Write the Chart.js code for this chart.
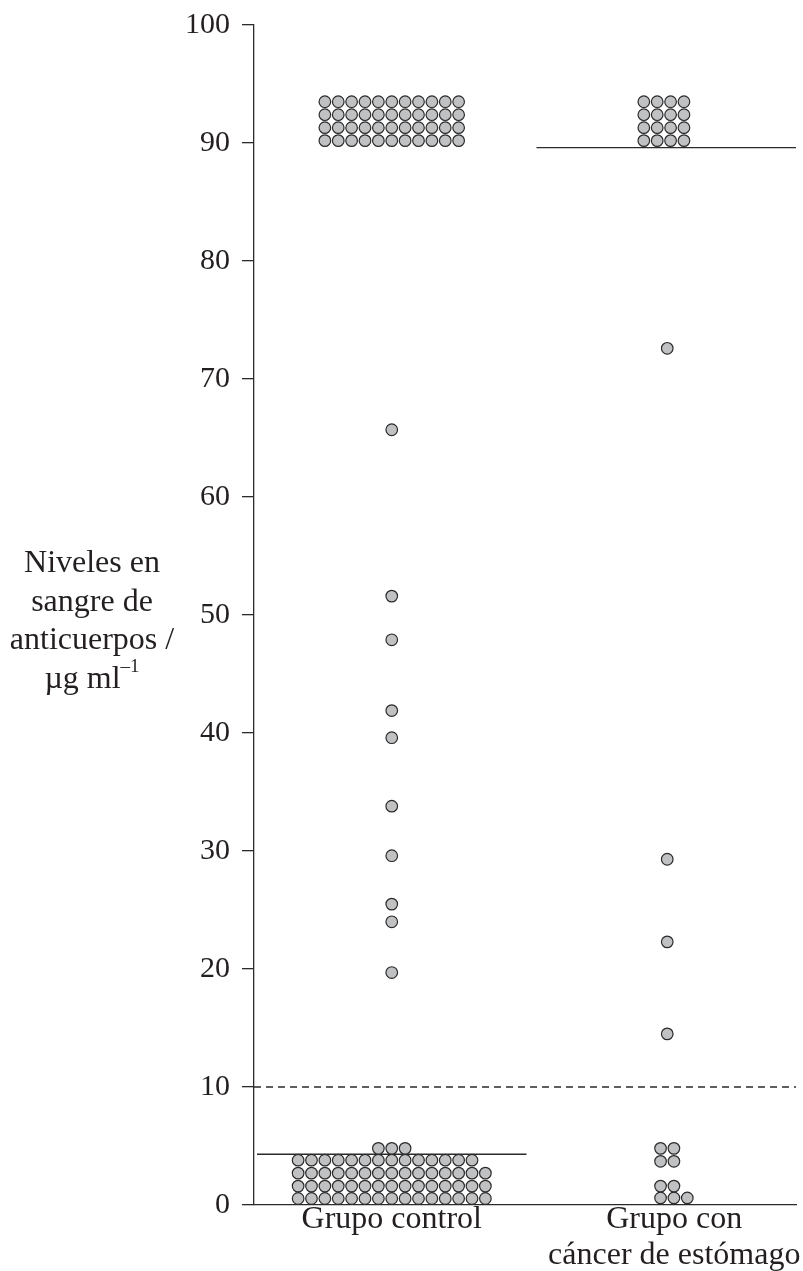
<!DOCTYPE html>
<html>
<head>
<meta charset="utf-8">
<script src="https://cdn.jsdelivr.net/npm/chart.js@4/dist/chart.umd.min.js"></script>
<style>
  body { margin: 0; background: #fff; }
  canvas { display: block; }
</style>
</head>
<body>
<canvas id="grafico" width="803" height="1271"></canvas>
<script>
// datos
const grupos = [['Grupo control'], ['Grupo con', 'cáncer de estómago']];
const tituloY = ['Niveles en', 'sangre de', 'anticuerpos /', 'µg ml'];
const ticksY = [0, 10, 20, 30, 40, 50, 60, 70, 80, 90, 100];

// niveles de cada fila de puntos y cuantos puntos tiene la fila
const controlNiveles = [0.55, 1.6, 2.7, 3.8, 4.8, 19.7, 24.0, 25.5, 29.6, 33.8, 39.6, 41.9, 47.9, 51.6, 65.7, 90.2, 91.3, 92.4, 93.5];
const controlCuentas = [15, 15, 15, 14, 3, 1, 1, 1, 1, 1, 1, 1, 1, 1, 1, 11, 11, 11, 11];
const cancerNiveles = [0.6, 1.6, 3.7, 4.8, 14.5, 22.3, 29.3, 72.6, 90.2, 91.3, 92.4, 93.5];
const cancerCuentas = [3, 2, 2, 2, 1, 1, 1, 1, 4, 4, 4, 4];

const mediaControl = 4.3;
const mediaCancer = 89.6;
const umbral = 10;

// disposicion (columna donde empieza cada fila)
const inicioControl = [-7, -7, -7, -7, -1, 0, 0, 0, 0, 0, 0, 0, 0, 0, 0, -5, -5, -5, -5];
const inicioCancer = [-0.5, -0.5, -0.5, -0.5, 0, 0, 0, 0, -1.75, -1.75, -1.75, -1.75];
const centros = [138, 414];
const centrosTexto = [138, 421];
const paso = 13.4;
const anchoMedia = 135;

function puntos(niveles, cuentas, inicio, centro) {
  const out = [];
  niveles.forEach((v, i) => {
    for (let k = 0; k < cuentas[i]; k++) {
      out.push({ x: centro + (inicio[i] + k) * paso, y: v });
    }
  });
  return out;
}

const tinta = '#231f20';
const fuente = 'Liberation Serif';

const etiquetas = {
  id: 'etiquetas',
  afterDraw(chart) {
    const ctx = chart.ctx;
    const x = chart.scales.x;
    const grande = '32px "' + fuente + '"';
    const chico = '19px "' + fuente + '"';
    ctx.save();
    ctx.fillStyle = tinta;
    ctx.textAlign = 'center';
    ctx.textBaseline = 'middle';
    ctx.font = grande;
    // titulo del eje y
    const cx = 92;
    tituloY.forEach((t, i) => {
      const y = 564 + i * 38.5;
      if (i === tituloY.length - 1) {
        ctx.font = grande;
        const w1 = ctx.measureText(t).width;
        ctx.font = chico;
        const w2 = ctx.measureText('–1').width;
        const x0 = cx - (w1 + w2) / 2;
        ctx.textAlign = 'left';
        ctx.font = grande;
        ctx.fillText(t, x0, y);
        ctx.font = chico;
        ctx.fillText('–1', x0 + w1, y - 12);
        ctx.textAlign = 'center';
        ctx.font = grande;
      } else {
        ctx.fillText(t, cx, y);
      }
    });
    // nombres de los grupos
    grupos.forEach((lineas, g) => {
      const px = x.getPixelForValue(centrosTexto[g]);
      lineas.forEach((t, i) => ctx.fillText(t, px, 1220 + i * 36));
    });
    ctx.restore();
  }
};

const estiloPunto = {
  type: 'scatter',
  backgroundColor: '#c0c1c3',
  borderColor: '#2b2b2b',
  borderWidth: 1.2,
  pointRadius: 5.8,
  pointHoverRadius: 5.8,
  clip: false,
  order: 0
};
const estiloLinea = {
  type: 'line',
  borderColor: '#2b2b2b',
  borderWidth: 1.3,
  pointRadius: 0,
  fill: false,
  clip: false,
  order: 1
};

new Chart(document.getElementById('grafico'), {
  type: 'scatter',
  data: {
    datasets: [
      Object.assign({ label: 'control', data: puntos(controlNiveles, controlCuentas, inicioControl, centros[0]) }, estiloPunto),
      Object.assign({ label: 'cancer', data: puntos(cancerNiveles, cancerCuentas, inicioCancer, centros[1]) }, estiloPunto),
      Object.assign({ label: 'media control', data: [{ x: centros[0] - anchoMedia, y: mediaControl }, { x: centros[0] + anchoMedia, y: mediaControl }] }, estiloLinea),
      Object.assign({ label: 'media cancer', data: [{ x: centros[1] - anchoMedia + 4, y: mediaCancer }, { x: 543, y: mediaCancer }] }, estiloLinea),
      Object.assign({ label: 'umbral', data: [{ x: 0, y: umbral }, { x: 543, y: umbral }], borderDash: [7, 5] }, estiloLinea)
    ]
  },
  options: {
    responsive: false,
    animation: false,
    layout: { padding: { top: 25, right: 6, left: 0, bottom: 0 } },
    plugins: { legend: { display: false }, tooltip: { enabled: false } },
    scales: {
      x: {
        type: 'linear',
        min: 0,
        max: 543,
        ticks: { display: false },
        grid: { display: false },
        border: { color: '#2b2b2b', width: 1.3 },
        afterFit(s) { s.height = 66; s.paddingLeft = 0; s.paddingRight = 0; }
      },
      y: {
        min: 0,
        max: 100,
        afterBuildTicks(s) { s.ticks = ticksY.map(v => ({ value: v })); },
        ticks: { color: tinta, font: { family: fuente, size: 30 }, padding: 12 },
        grid: { drawOnChartArea: false, drawTicks: true, tickLength: 12, color: '#2b2b2b', lineWidth: 1.3 },
        border: { color: '#2b2b2b', width: 1.3 },
        afterFit(s) { s.width = 254; s.paddingTop = 0; s.paddingBottom = 0; }
      }
    }
  },
  plugins: [etiquetas]
});
</script>
</body>
</html>
